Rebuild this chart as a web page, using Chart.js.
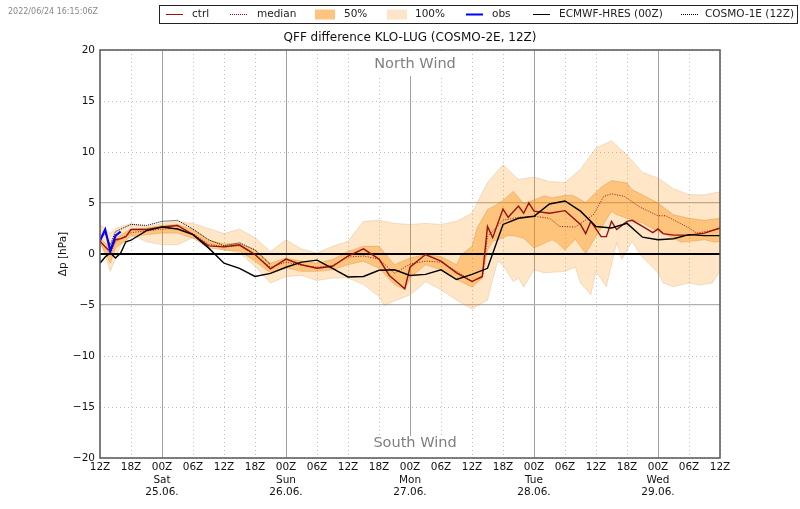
<!DOCTYPE html>
<html>
<head>
<meta charset="utf-8">
<title>QFF difference KLO-LUG</title>
<script src="https://cdn.jsdelivr.net/npm/chart.js@4"></script>
<style>
    html, body { margin: 0; padding: 0; background: #fff; }
    #wrap { position: relative; width: 800px; height: 509px; }
</style>
</head>
<body>
<div id="wrap"><canvas id="qffChart" width="800" height="509"></canvas></div>
<script>
const timeLabels = ['12Z', '18Z', '00Z', '06Z', '12Z', '18Z', '00Z', '06Z', '12Z', '18Z', '00Z', '06Z', '12Z', '18Z', '00Z', '06Z', '12Z', '18Z', '00Z', '06Z', '12Z'];
const dayLabels = ['Sat', 'Sun', 'Mon', 'Tue', 'Wed'];
const dateLabels = ['25.06.', '26.06.', '27.06.', '28.06.', '29.06.'];
const legendLabels = ['ctrl', 'median', '50%', '100%', 'obs', 'ECMWF-HRES (00Z)', 'COSMO-1E (12Z)'];

// hours since 24.06. 12Z, each series keeps its own kinks
const upper100Hours = [0, 2, 3, 6, 9, 12, 15, 18, 21, 24, 27, 30, 33, 36, 39, 42, 45, 48, 51, 54, 57, 60, 63, 66, 69, 72, 75, 78, 81, 84, 87, 90, 93, 96, 99, 102, 105, 108, 111, 114, 117, 120];
const upper100 = [2.9, 2.0, 2.5, 3.0, 2.7, 3.0, 3.2, 3.0, 2.5, 2.0, 2.45, 1.6, 0.25, 1.4, 0.5, 0.1, 0.75, 1.25, 3.2, 3.3, 3.0, 2.9, 3.0, 2.9, 3.2, 4.0, 7.0, 8.75, 7.3, 7.55, 7.1, 7.0, 8.3, 10.4, 11.1, 9.7, 8.0, 7.45, 6.4, 5.8, 5.8, 6.1];
const lower100Hours = [0, 1, 2, 3, 4, 6, 9, 12, 15, 18, 21, 24, 27, 30, 33, 36, 39, 42, 45, 48, 51, 54, 55, 57, 60, 62, 63, 66, 69, 72, 75, 76, 77, 78, 80, 81, 82, 84, 86, 90, 92, 93, 95, 96, 98, 100, 101, 103, 104.5, 108, 109, 111, 114, 116, 118.5, 120];
const lower100 = [1.3, -0.2, -1.7, -0.4, 0.8, 1.9, 1.2, 0.9, 0.9, 1.6, 1.1, 0.4, 0.1, -1.2, -2.85, -2.2, -2.1, -2.6, -2.35, -2.35, -3.0, -4.15, -5.05, -4.6, -4.0, -3.2, -2.7, -3.5, -4.5, -5.4, -4.5, -2.5, -0.7, -1.1, -2.7, -2.35, -3.25, -1.55, -1.85, -1.7, -1.3, -2.85, -4.0, -1.7, -3.2, 1.1, -0.55, 1.25, -0.05, -1.85, -2.85, -3.2, -2.85, -3.05, -2.85, -1.7];
const upper50Hours = [0, 2, 3, 6, 9, 12, 15, 18, 21, 24, 27, 30, 33, 36, 39, 42, 45, 48, 51, 54, 57, 60, 63, 66, 69, 70, 72, 73, 75, 77.5, 80, 82, 84, 86, 87.5, 90, 91.5, 94, 97, 99, 102, 103, 105, 108, 111, 114, 117, 120];
const upper50 = [1.55, 0.6, 1.55, 2.45, 2.55, 2.8, 2.9, 2.4, 1.35, 1.0, 1.0, 0.4, -0.9, -0.4, -0.7, -0.9, -0.55, 0.25, 0.75, 0.75, -1.05, -0.4, -0.05, -0.25, -1.05, -0.05, 0.75, 2.55, 4.35, 5.05, 6.15, 4.95, 5.3, 5.7, 5.5, 5.75, 5.75, 5.05, 6.55, 7.2, 6.95, 6.3, 5.8, 5.0, 3.85, 3.5, 3.3, 3.5];
const lower50Hours = [0, 2, 3, 6, 9, 12, 15, 18, 21, 24, 27, 30, 33, 36, 39, 42, 45, 48, 51, 54, 57, 59, 60, 63, 66, 69, 72, 74, 75, 76, 77, 79, 80, 82, 84, 87.5, 88.5, 90, 92, 94, 96, 99, 100, 102, 105, 108, 111, 112.5, 117, 119, 120];
const lower50 = [1.1, -0.9, 0.6, 1.7, 1.9, 2.05, 2.05, 1.55, 0.6, 0.4, 0.3, -0.7, -1.85, -1.35, -1.7, -1.7, -1.55, -1.05, -0.7, -1.4, -3.0, -3.5, -2.35, -1.05, -1.55, -2.5, -3.25, -2.35, 0.4, 1.25, 1.4, 1.8, 1.8, 1.55, 0.6, 1.4, 1.1, 0.4, 1.45, 0.05, 1.75, 4.2, 3.85, 3.5, 3.05, 2.2, 1.55, 1.15, 1.4, 1.15, 1.25];
const ctrlHours = [0, 1, 2, 3, 4, 5, 6, 9, 12, 15, 18, 21, 24, 27, 30, 33, 36, 39, 42, 45, 48, 51, 54, 56, 59, 60, 63, 66, 69, 72, 74, 75, 76, 78, 79, 81, 82, 83, 84, 87, 90, 93, 94, 95, 97, 98, 99, 100, 102, 103, 105, 107, 108, 109, 111, 114, 117, 120];
const ctrl = [1.25, 0.7, 0.25, 1.4, 1.5, 1.7, 2.4, 2.4, 2.65, 2.8, 1.9, 0.8, 0.7, 0.9, -0.05, -1.45, -0.5, -1.05, -1.4, -1.2, -0.2, 0.5, -0.5, -2.1, -3.4, -1.3, -0.05, -0.7, -1.85, -2.7, -2.2, 2.7, 1.6, 4.4, 3.6, 4.7, 4.0, 5.0, 4.2, 4.0, 4.25, 2.9, 2.0, 3.2, 1.7, 1.7, 3.2, 2.4, 3.2, 3.3, 2.7, 2.1, 2.45, 2.0, 1.85, 1.85, 2.05, 2.55];
const medianHours = [0, 2, 3, 6, 9, 12, 15, 18, 21, 24, 27, 30, 33, 36, 39, 42, 45, 48, 51, 54, 57, 60, 63, 66, 69, 72, 74, 75, 78, 81, 84, 87, 89, 92, 95.5, 97.5, 99, 101.5, 104.5, 108, 109.5, 111, 114, 115.5, 120];
const median = [1.3, 0, 1.2, 2.1, 2.25, 2.45, 2.5, 2.0, 0.95, 0.7, 0.8, -0.1, -1.3, -0.8, -1.1, -1.3, -1.15, -0.3, -0.2, -0.5, -1.9, -1.0, -0.7, -0.8, -1.7, -2.65, -2.3, 1.7, 3.3, 3.6, 3.7, 3.5, 2.7, 2.65, 3.85, 5.65, 5.9, 5.65, 4.6, 3.75, 3.75, 3.35, 2.55, 2.05, 2.45];
const obsHours = [0, 1, 2, 3, 4];
const obs = [1.3, 2.4, 0.3, 1.8, 2.2];
const ecmwfHours = [0, 1, 2, 3, 4, 5, 6, 9, 12, 15, 18, 21, 24, 27, 30, 33, 36, 39, 42, 45, 48, 51, 54, 57, 60, 63, 66, 69, 72, 75, 78, 81, 84, 87, 90, 93, 96, 99, 102, 105, 108, 111, 114, 117, 120];
const ecmwf = [-0.9, -0.3, 0.1, -0.4, 0.1, 1.2, 1.35, 2.3, 2.65, 2.45, 1.9, 0.6, -0.9, -1.4, -2.2, -1.9, -1.3, -0.8, -0.6, -1.4, -2.25, -2.2, -1.6, -1.55, -2.1, -2.0, -1.55, -2.5, -2.0, -1.4, 2.9, 3.5, 3.7, 4.9, 5.2, 4.2, 2.7, 2.55, 3.0, 1.65, 1.4, 1.5, 1.9, 1.8, 1.8];
const cosmo1Hours = [0, 1, 2, 3, 6, 9, 12, 15, 18, 21, 24, 27, 30, 33];
const cosmo1 = [1.5, 2.0, 0.9, 2.2, 2.9, 2.8, 3.2, 3.3, 2.45, 1.4, 0.8, 1.1, 0.4, -1.05];
const zeroHours = [0, 120];
const zeroLine = [0, 0];

const FONT = '"DejaVu Sans", sans-serif';
const BAND100 = 'rgba(255, 140, 0, 0.22)';
const BAND50 = 'rgba(255, 140, 0, 0.38)';
const EDGE100 = 'rgba(190, 130, 70, 0.22)';
const EDGE50 = 'rgba(190, 120, 40, 0.3)';
const RED = '#990f0f';

function toPoints(hours, values) {
    return hours.map(function (h, i) { return { x: h, y: values[i] }; });
}

function lineSet(label, hours, values, color, width, dash, order) {
    return {
        label: label,
        data: toPoints(hours, values),
        borderColor: color,
        borderWidth: width,
        borderDash: dash,
        pointRadius: 0,
        tension: 0,
        fill: false,
        order: order
    };
}

function bandSet(label, hours, values, edge, fillColor, order) {
    const set = lineSet(label, hours, values, edge, 1, [], order);
    set.backgroundColor = fillColor;
    set.fill = fillColor ? '+1' : false;
    return set;
}

// white boxes behind the wind labels, frame, texts and legend
const decorPlugin = {
    id: 'decor',
    beforeDatasetsDraw: function (chart) {
        const ctx = chart.ctx;
        ctx.save();
        ctx.fillStyle = '#fff';
        ctx.fillRect(375, 51, 83, 25);
        ctx.fillRect(375, 436, 83, 21);
        ctx.restore();
    },
    afterDraw: function (chart) {
        const ctx = chart.ctx;
        const area = chart.chartArea;
        ctx.save();
        ctx.strokeStyle = '#555';
        ctx.lineWidth = 1.5;
        ctx.strokeRect(area.left, area.top, area.right - area.left, area.bottom - area.top);

        ctx.textAlign = 'center';
        ctx.textBaseline = 'middle';
        ctx.font = '12px ' + FONT;
        ctx.fillStyle = '#111';
        ctx.fillText('QFF difference KLO-LUG (COSMO-2E, 12Z)', 410, 38);

        ctx.font = '14.5px ' + FONT;
        ctx.fillStyle = '#7f7f7f';
        ctx.fillText('North Wind', 415, 64.5);
        ctx.fillText('South Wind', 415, 443.5);

        ctx.font = '8px ' + FONT;
        ctx.fillStyle = '#888';
        ctx.textAlign = 'left';
        ctx.fillText('2022/06/24 16:15:06Z', 8, 12);

        drawLegend(ctx);
        ctx.restore();
    }
};

function drawLegend(ctx) {
    ctx.strokeStyle = '#222';
    ctx.lineWidth = 1;
    ctx.strokeRect(159.5, 5.5, 638, 18);

    const y = 14.5;
    function line(x, color, width, dash) {
        ctx.beginPath();
        ctx.setLineDash(dash);
        ctx.strokeStyle = color;
        ctx.lineWidth = width;
        ctx.moveTo(x, y);
        ctx.lineTo(x + 17, y);
        ctx.stroke();
        ctx.setLineDash([]);
    }
    function swatch(x, color) {
        ctx.fillStyle = color;
        ctx.fillRect(x, y - 5, 20, 10);
    }

    line(166, RED, 1, []);
    line(230, RED, 1, [1, 1]);
    swatch(315, '#fdc480');
    swatch(387, '#fee4c8');
    line(466, '#0000ff', 2, []);
    line(533, '#000', 1, []);
    line(681, '#000', 1, [1, 1]);

    const textX = [192, 257, 344, 415, 492, 559, 705];
    ctx.font = '10.5px ' + FONT;
    ctx.fillStyle = '#222';
    ctx.textAlign = 'left';
    ctx.textBaseline = 'middle';
    legendLabels.forEach(function (label, i) {
        ctx.fillText(label, textX[i], y);
    });
}

new Chart(document.getElementById('qffChart'), {
    type: 'line',
    plugins: [decorPlugin],
    data: {
        datasets: [
            bandSet('100% high', upper100Hours, upper100, EDGE100, BAND100, 9),
            bandSet('100% low', lower100Hours, lower100, EDGE100, null, 9),
            bandSet('50% high', upper50Hours, upper50, EDGE50, BAND50, 8),
            bandSet('50% low', lower50Hours, lower50, EDGE50, null, 8),
            lineSet('zero', zeroHours, zeroLine, '#000', 2, [], 7),
            lineSet('median', medianHours, median, RED, 1, [1, 1.5], 6),
            lineSet('ctrl', ctrlHours, ctrl, RED, 1.4, [], 5),
            lineSet('COSMO-1E (12Z)', cosmo1Hours, cosmo1, '#000', 1, [1, 1], 4),
            lineSet('ECMWF-HRES (00Z)', ecmwfHours, ecmwf, '#000', 1.4, [], 3),
            lineSet('obs', obsHours, obs, '#0000ff', 2.2, [], 2)
        ]
    },
    options: {
        responsive: false,
        animation: false,
        parsing: false,
        normalized: true,
        layout: { padding: { top: 50, left: 57, right: 80, bottom: 0 } },
        plugins: {
            legend: { display: false },
            tooltip: { enabled: false }
        },
        scales: {
            x: {
                type: 'linear',
                min: 0,
                max: 120,
                afterFit: function (scale) { scale.height = 51; },
                afterBuildTicks: function (scale) {
                    scale.ticks = timeLabels.map(function (t, i) { return { value: i * 6 }; });
                },
                ticks: {
                    autoSkip: false,
                    maxRotation: 0,
                    color: '#111',
                    padding: 3,
                    font: { family: FONT, size: 10.5, lineHeight: 1.2 },
                    callback: function (value) {
                        const i = value / 6;
                        const time = timeLabels[i];
                        if (time === '00Z') {
                            const d = (i - 2) / 4;
                            return [time, dayLabels[d], dateLabels[d]];
                        }
                        return time;
                    }
                },
                border: {
                    display: false,
                    dash: function (c) { return c.index % 4 === 2 ? [] : [1, 3]; }
                },
                grid: {
                    drawTicks: false,
                    color: function (c) { return c.index % 4 === 2 ? '#a0a0a0' : '#bbbbbb'; },
                    lineWidth: 1
                }
            },
            y: {
                type: 'linear',
                min: -20,
                max: 20,
                afterFit: function (scale) { scale.width = 43; },
                title: {
                    display: true,
                    text: 'Δp [hPa]',
                    color: '#111',
                    font: { family: FONT, size: 10.5 },
                    padding: { top: 0, bottom: 0 }
                },
                ticks: {
                    stepSize: 5,
                    color: '#111',
                    padding: 5,
                    font: { family: FONT, size: 10.5 },
                    callback: function (value) {
                        return value < 0 ? '\u2212' + Math.abs(value) : String(value);
                    }
                },
                border: {
                    display: false,
                    dash: function (c) {
                        return c.tick && Math.abs(c.tick.value) === 5 ? [] : [1, 3];
                    }
                },
                grid: {
                    drawTicks: false,
                    color: function (c) {
                        return Math.abs(c.tick.value) === 5 ? '#b0b0b0' : '#bbbbbb';
                    },
                    lineWidth: function (c) {
                        return Math.abs(c.tick.value) === 5 ? 1.2 : 1;
                    }
                }
            }
        }
    }
});
</script>
</body>
</html>
